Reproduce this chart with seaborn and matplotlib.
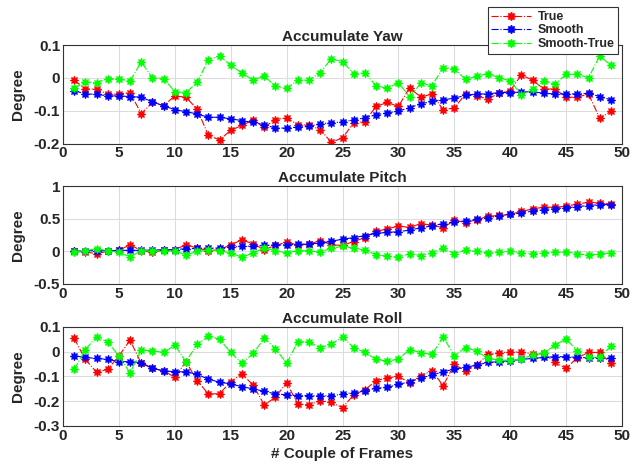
import numpy as np
import pandas as pd
import matplotlib
matplotlib.use("Agg")
import matplotlib.pyplot as plt
from matplotlib.lines import Line2D
import seaborn as sns

frames = list(range(1, 50))

yaw_true = [-0.007, -0.034, -0.034, -0.05, -0.049, -0.045, -0.109, -0.075, -0.085, -0.055,
            -0.059, -0.095, -0.175, -0.189, -0.16, -0.145, -0.128, -0.15, -0.127, -0.122,
            -0.143, -0.143, -0.158, -0.196, -0.183, -0.137, -0.133, -0.087, -0.075, -0.087,
            -0.03, -0.059, -0.049, -0.097, -0.092, -0.049, -0.055, -0.064, -0.047, -0.039,
            0.009, -0.007, -0.034, -0.034, -0.059, -0.059, -0.049, -0.123, -0.102]
yaw_smooth = [-0.039, -0.049, -0.05, -0.055, -0.055, -0.057, -0.059, -0.073, -0.085, -0.097,
              -0.103, -0.11, -0.12, -0.12, -0.125, -0.13, -0.136, -0.143, -0.153, -0.153,
              -0.15, -0.148, -0.14, -0.137, -0.134, -0.128, -0.122, -0.112, -0.107, -0.101,
              -0.091, -0.079, -0.072, -0.067, -0.062, -0.053, -0.049, -0.049, -0.045, -0.045,
              -0.043, -0.042, -0.047, -0.049, -0.049, -0.049, -0.047, -0.057, -0.067]
yaw_diff = [-0.032, -0.012, -0.015, -0.002, -0.004, -0.009, 0.048, 0.0, -0.002, -0.042,
            -0.045, -0.014, 0.055, 0.067, 0.038, 0.015, -0.007, 0.005, -0.025, -0.032,
            -0.007, -0.007, 0.016, 0.058, 0.049, 0.013, 0.015, -0.024, -0.032, -0.015,
            -0.057, -0.017, -0.024, 0.031, 0.028, -0.005, 0.005, 0.013, 0.0, -0.009,
            -0.052, -0.035, -0.01, -0.02, 0.011, 0.011, 0.0, 0.067, 0.038]

pitch_true = [0.0, -0.01, -0.035, 0.0, 0.015, 0.1, 0.01, -0.015, 0.015, 0.025,
              0.1, 0.05, 0.01, 0.025, 0.1, 0.175, 0.115, 0.025, 0.09, 0.14,
              0.1, 0.11, 0.165, 0.1, 0.09, 0.15, 0.21, 0.31, 0.34, 0.39,
              0.365, 0.425, 0.4, 0.36, 0.475, 0.44, 0.485, 0.535, 0.55, 0.565,
              0.61, 0.65, 0.675, 0.675, 0.69, 0.725, 0.75, 0.74, 0.725]
pitch_smooth = [0.0, 0.01, 0.01, 0.01, 0.015, 0.015, 0.015, 0.02, 0.025, 0.025,
                0.04, 0.045, 0.05, 0.05, 0.065, 0.075, 0.08, 0.09, 0.095, 0.1,
                0.105, 0.115, 0.125, 0.155, 0.185, 0.21, 0.24, 0.275, 0.29, 0.3,
                0.325, 0.36, 0.39, 0.425, 0.45, 0.465, 0.49, 0.515, 0.54, 0.565,
                0.59, 0.615, 0.64, 0.655, 0.665, 0.685, 0.7, 0.715, 0.715]
pitch_diff = [-0.01, 0.01, 0.04, 0.01, -0.015, -0.085, 0.01, 0.01, 0.0, 0.01,
              -0.06, 0.0, 0.015, 0.01, -0.025, -0.09, -0.025, 0.05, 0.01, -0.025,
              0.01, 0.01, -0.015, 0.05, 0.075, 0.05, 0.015, -0.05, -0.075, -0.09,
              -0.035, -0.065, -0.025, 0.05, -0.035, 0.015, 0.0, -0.025, -0.01, 0.0,
              -0.025, -0.035, -0.025, -0.015, -0.01, -0.035, -0.06, -0.035, -0.025]

roll_true = [0.054, -0.031, -0.083, -0.071, -0.017, 0.047, -0.047, -0.067, -0.077, -0.103,
             -0.04, -0.117, -0.17, -0.17, -0.121, -0.09, -0.134, -0.215, -0.184, -0.125,
             -0.211, -0.215, -0.197, -0.205, -0.226, -0.174, -0.154, -0.117, -0.105, -0.1,
             -0.125, -0.097, -0.077, -0.137, -0.051, -0.078, -0.054, -0.011, -0.004, -0.001,
             -0.001, -0.009, -0.007, -0.043, -0.067, -0.024, -0.003, -0.003, -0.047]
roll_smooth = [-0.016, -0.023, -0.027, -0.031, -0.04, -0.04, -0.044, -0.067, -0.077, -0.081,
               -0.081, -0.091, -0.111, -0.123, -0.13, -0.141, -0.15, -0.16, -0.17, -0.174,
               -0.177, -0.177, -0.178, -0.178, -0.171, -0.165, -0.157, -0.148, -0.144, -0.132,
               -0.121, -0.107, -0.094, -0.081, -0.07, -0.063, -0.054, -0.043, -0.04, -0.036,
               -0.031, -0.027, -0.023, -0.02, -0.02, -0.023, -0.024, -0.024, -0.027]
roll_diff = [-0.071, 0.009, 0.06, 0.04, -0.017, -0.085, 0.007, 0.004, -0.003, 0.027,
             -0.04, 0.03, 0.063, 0.051, -0.003, -0.047, -0.007, 0.054, 0.013, -0.047,
             0.04, 0.04, 0.016, 0.031, 0.059, 0.017, -0.003, -0.031, -0.038, -0.03,
             0.009, -0.004, -0.011, 0.06, -0.016, 0.017, 0.003, -0.027, -0.034, -0.034,
             -0.03, -0.013, -0.007, 0.027, 0.051, 0.004, -0.023, -0.023, 0.023]

titles = ["Accumulate Yaw", "Accumulate Pitch", "Accumulate Roll"]
series_names = ["True", "Smooth", "Smooth-True"]
colors = ["#FF0000", "#0000FF", "#00FF00"]
ylims = [(-0.2, 0.1), (-0.5, 1.0), (-0.3, 0.1)]
yticks = [[-0.2, -0.1, 0, 0.1], [-0.5, 0, 0.5, 1], [-0.3, -0.2, -0.1, 0, 0.1]]
yticklabels = [["-0.2", "-0.1", "0", "0.1"], ["-0.5", "0", "0.5", "1"],
               ["-0.3", "-0.2", "-0.1", "0", "0.1"]]
xticks = [0, 5, 10, 15, 20, 25, 30, 35, 40, 45, 50]
panels = [(yaw_true, yaw_smooth, yaw_diff),
          (pitch_true, pitch_smooth, pitch_diff),
          (roll_true, roll_smooth, roll_diff)]

sns.set_style("whitegrid", {"grid.color": "#dcdcdc", "axes.edgecolor": "#333333"})
plt.rcParams['font.family'] = ['Liberation Sans', 'DejaVu Sans']
plt.rcParams['font.weight'] = 'bold'

fig = plt.figure(figsize=(6.38, 4.67), dpi=100)
left, right = 0.0987, 0.975
boxes = [(0.6927, 0.9036), (0.3919, 0.6017), (0.0878, 0.2998)]

for i, (bottom, top) in enumerate(boxes):
    ax = fig.add_axes([left, bottom, right - left, top - bottom])
    df = pd.DataFrame({"frame": frames * 3,
                       "value": list(panels[i][0]) + list(panels[i][1]) + list(panels[i][2]),
                       "series": [series_names[0]] * 49 + [series_names[1]] * 49 + [series_names[2]] * 49})
    for name, col in zip(series_names, colors):
        sub = df[df["series"] == name]
        sns.lineplot(data=sub, x="frame", y="value", ax=ax, color=col,
                     linestyle="-.", linewidth=0.8, marker=(8, 1, 0), markersize=6,
                     markeredgecolor=col, markeredgewidth=0.7, legend=False)
    ax.set_xlim(0, 50)
    ax.set_ylim(*ylims[i])
    ax.set_xticks(xticks)
    ax.set_yticks(yticks[i])
    ax.set_yticklabels(yticklabels[i])
    ax.tick_params(axis="both", labelsize=11, length=3, direction="in", pad=2)
    for lab in ax.get_xticklabels() + ax.get_yticklabels():
        lab.set_fontweight("bold")
    ax.set_title(titles[i], fontsize=11, fontweight="bold", pad=3)
    ax.set_ylabel("Degree", fontsize=11, fontweight="bold", labelpad=6)
    ax.set_xlabel("")
    for sp in ax.spines.values():
        sp.set_linewidth(0.8)
        sp.set_color("#333333")
    if i == 2:
        ax.set_xlabel("# Couple of Frames", fontsize=11, fontweight="bold", labelpad=3)

handles = [Line2D([0], [0], color=c, linestyle="-.", linewidth=0.8, marker=(8, 1, 0),
                  markersize=6, markeredgecolor=c) for c in colors]
leg = fig.legend(handles, series_names, loc="upper right", bbox_to_anchor=(0.979, 0.998),
                 frameon=True, fancybox=False, borderpad=0.3,
                 handlelength=3.2, handletextpad=0.5, labelspacing=0.12,
                 prop={"weight": "bold", "size": 9})
leg.get_frame().set_edgecolor("#333333")
leg.get_frame().set_linewidth(0.8)
leg.get_frame().set_alpha(1)

fig.savefig("out.png", dpi=100)
